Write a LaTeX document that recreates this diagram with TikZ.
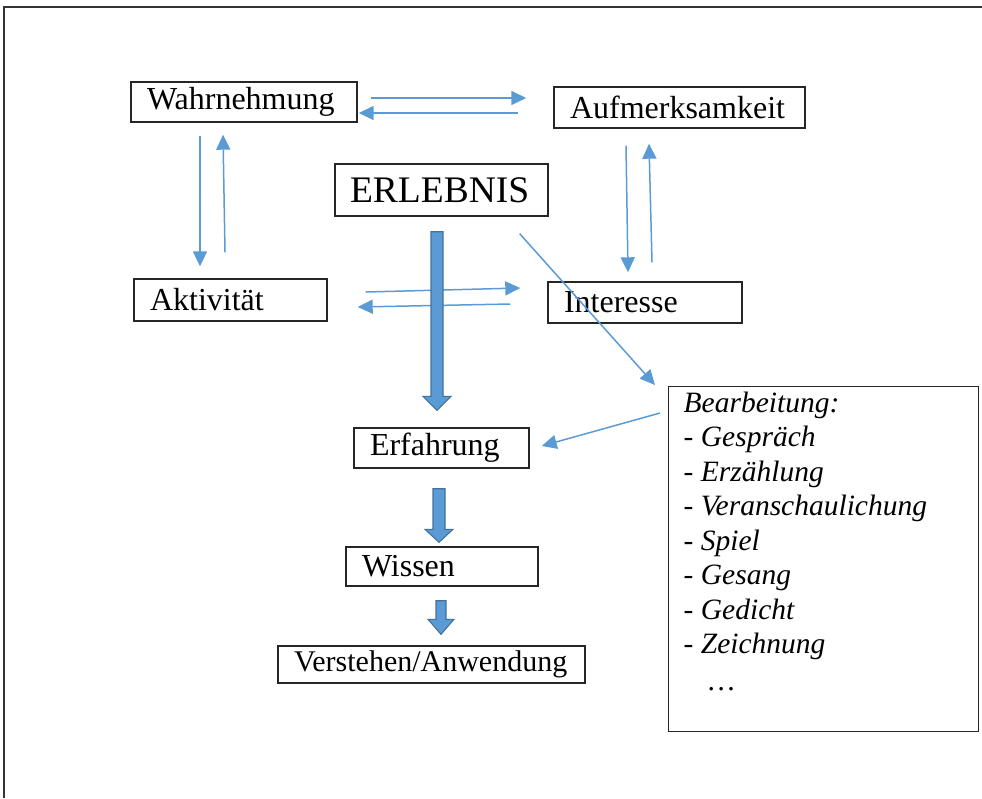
\documentclass[tikz,border=0pt]{standalone}
\usepackage{fontspec}
\setmainfont{Liberation Serif}
\usetikzlibrary{arrows.meta,calc}
\definecolor{arrblue}{RGB}{91,155,213}
\definecolor{arredge}{RGB}{65,113,156}
% #1 start coordinate, #2 tip coordinate, #3 half shaft width, #4 half head width, #5 head length
\newcommand\blockarr[5]{%
  \draw[blockstyle] ($(#1)+(-#3,0)$) -- ($(#2)+(-#3,-#5)$) -- ($(#2)+(-#4,-#5)$) -- (#2)
    -- ($(#2)+(#4,-#5)$) -- ($(#2)+(#3,-#5)$) -- ($(#1)+(#3,0)$) -- cycle;}
\begin{document}
\begin{tikzpicture}[x=1pt,y=-1pt,
  lbox/.style={draw=black!85, line width=1.4pt, align=left, inner xsep=16pt, inner ysep=0pt,
    font=\fontsize{32}{38}\selectfont},
  link/.style={draw=arrblue, line width=1.5pt, -{Triangle[length=15pt,width=14pt]}},
  blockstyle/.style={fill=arrblue, draw=arredge, line width=1.1pt, line join=miter}]
\useasboundingbox (0,0) rectangle (982,798);
\draw[line width=2pt, black!80] (4,798) -- (4,7) -- (982,7);

\node[lbox, text width=194pt, minimum height=40pt] (wahr) at (244,102) {Wahrnehmung};
\node[lbox, text width=219pt, minimum height=41pt] (aufm) at (679.5,107.5) {Aufmerksamkeit};
\node[lbox, inner xsep=15pt, text width=183pt, minimum height=52pt, font=\fontsize{37.5}{42}\selectfont] (erl) at (441.5,190) {ERLEBNIS};
\node[lbox, text width=161pt, minimum height=42pt] (akt) at (230.5,300) {Aktivität};
\node[lbox, text width=162pt, minimum height=41pt] (int) at (645,302.5) {Interesse};
\node[lbox, text width=143pt, minimum height=40pt] (erf) at (441.5,448) {Erfahrung};
\node[lbox, text width=160pt, minimum height=39pt] (wis) at (442,566.5) {Wissen};
\node[lbox, text width=275pt, minimum height=37pt, font=\fontsize{30}{36}\selectfont] (vers) at (431.5,664.5) {Verstehen/Anwendung};
\node[draw=black!85, line width=1.4pt, inner xsep=15pt, inner ysep=5pt, anchor=north west,
  font=\itshape\fontsize{29.5}{34.5}\selectfont] (bear) at (668,386)
  {\parbox[c][335pt][t]{280pt}{Bearbeitung:\\- Gespräch\\- Erzählung\\- Veranschaulichung\\- Spiel\\- Gesang\\- Gedicht\\- Zeichnung\\[2.5pt]\hspace*{25pt}\dots}};

% thin connectors
\draw[link] ($(wahr.east)+(13,-4)$) -- ($(aufm.west)+(-27,-9.5)$);
\draw[link] ($(aufm.west)+(-35,5.5)$) -- ($(wahr.east)+(1,11)$);
\draw[link] ($(wahr.south)+(-44,13)$) -- ($(akt.north)+(-30.5,-12)$);
\draw[link] ($(akt.north)+(-5.5,-26)$) -- ($(wahr.south)+(-21,12)$);
\draw[link] ($(aufm.south)+(-53.5,17)$) -- ($(int.north)+(-17,-9)$);
\draw[link] ($(int.north)+(7,-19)$) -- ($(aufm.south)+(-30.5,15)$);
\draw[link] ($(akt.east)+(38,-8)$) -- ($(int.west)+(-27,-14.5)$);
\draw[link] ($(int.west)+(-37,1.5)$) -- ($(akt.east)+(30,7)$);
\draw[link] ($(erl.south east)+(-29,17)$) -- ($(bear.north west)+(-13,-1)$);
\draw[link] ($(bear.north west)+(-8,27)$) -- ($(erf.east)+(12,-2)$);

% block arrows
\coordinate (b1s) at ($(erl.south)+(-4.5,15)$);
\coordinate (b1e) at ($(erf.north)+(-4.5,-17)$);
\coordinate (b2s) at ($(erf.south)+(-2.5,20)$);
\coordinate (b2e) at ($(wis.north)+(-3,-4)$);
\coordinate (b3s) at ($(wis.south)+(-1,14)$);
\coordinate (b3e) at ($(vers.north)+(9.5,-11)$);
\blockarr{b1s}{b1e}{6}{14}{14}
\blockarr{b2s}{b2e}{6}{14}{13}
\blockarr{b3s}{b3e}{5}{13}{15}
\end{tikzpicture}
\end{document}
